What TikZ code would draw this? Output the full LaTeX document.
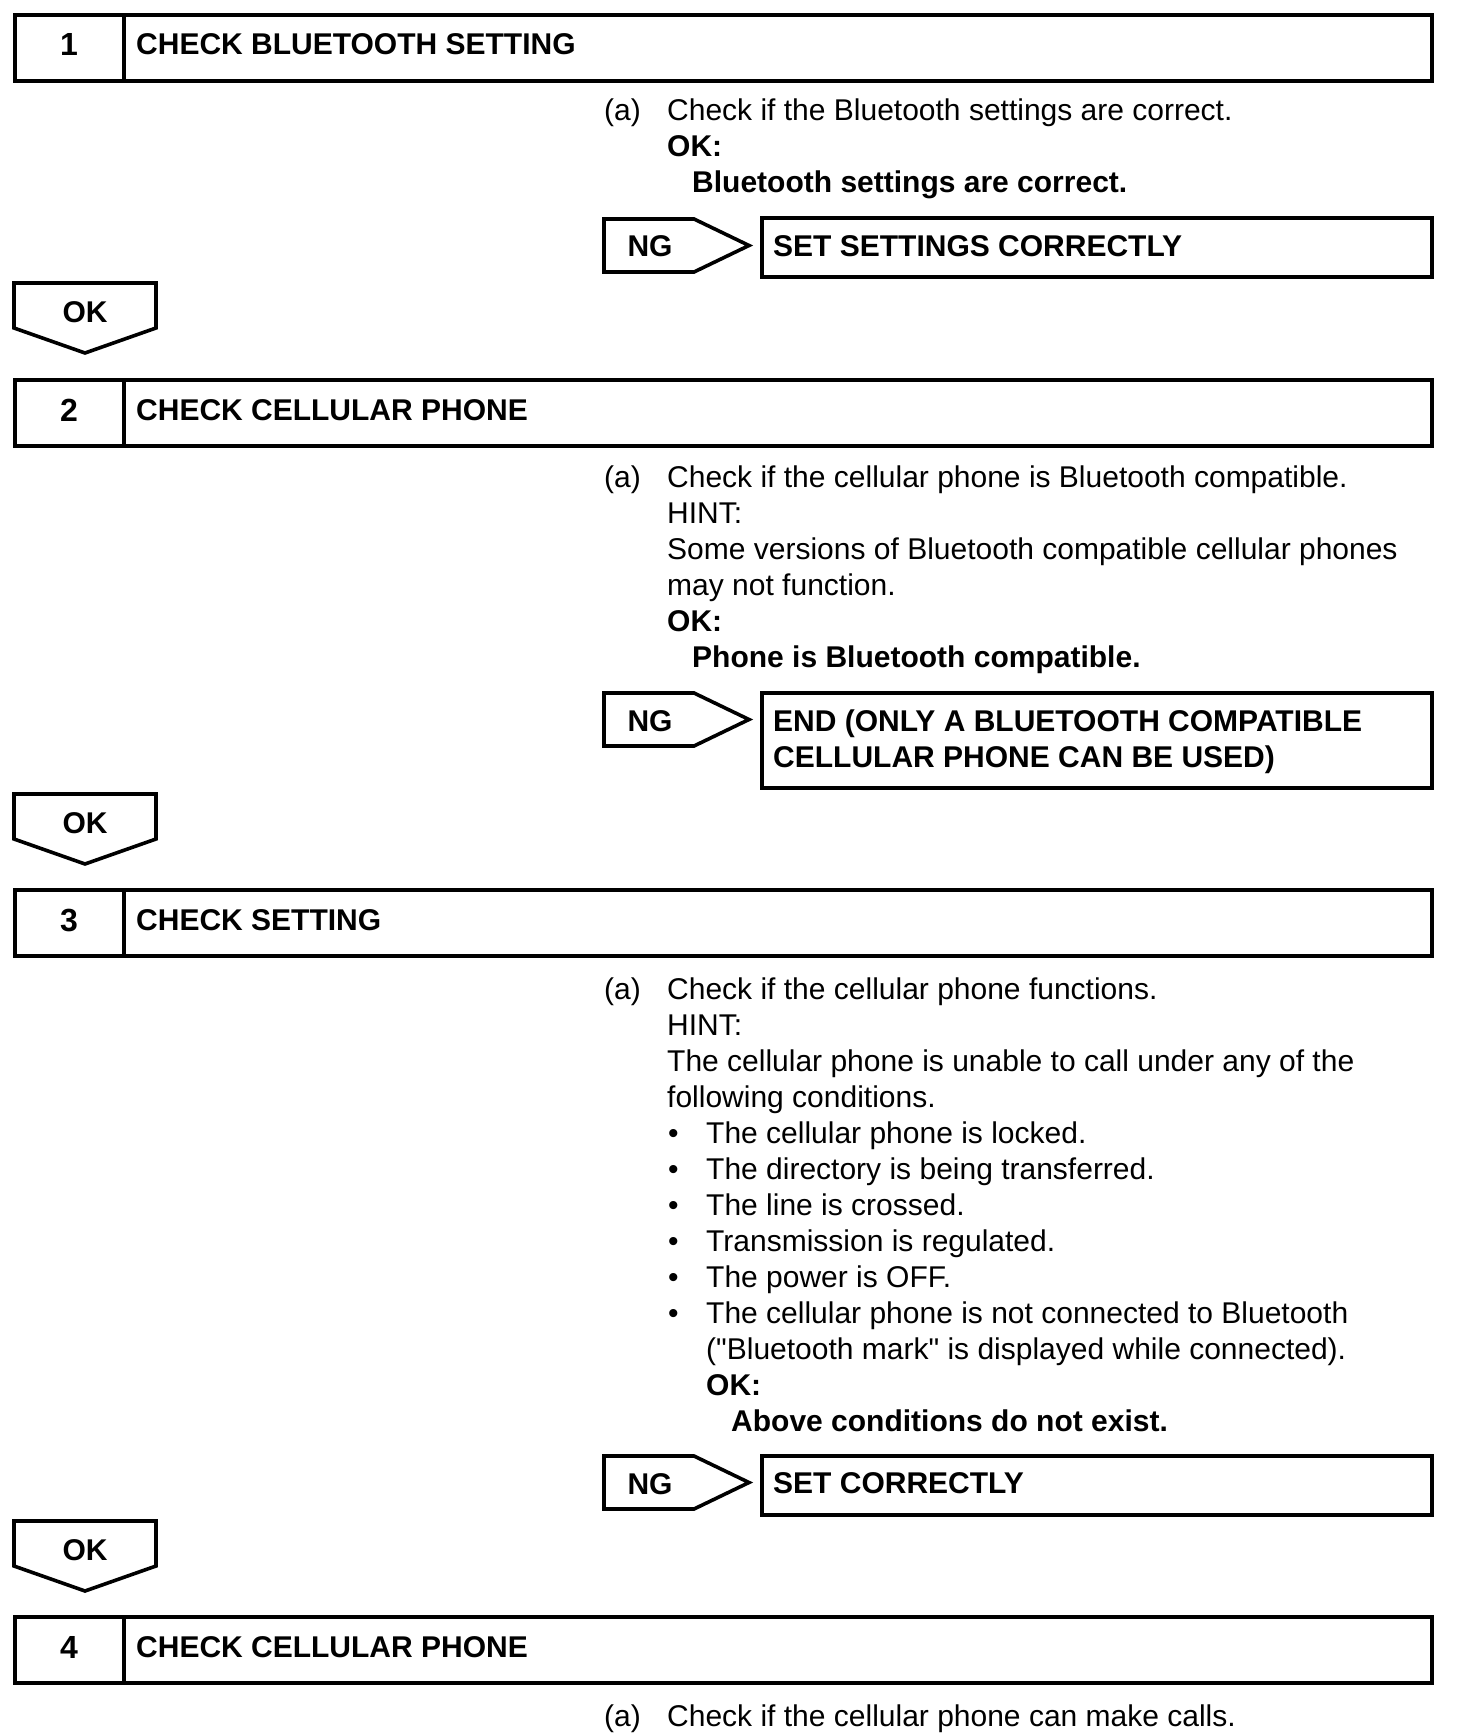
\documentclass[tikz,border=0pt]{standalone}
\usepackage{fontspec}
\setmainfont{Liberation Sans}[Ligatures=TeXOff]
\newcommand\bline[4]{\node[txt] (#1) at (#2,#3) {#4};}
\newcommand\bbline[4]{\node[btxt] (#1) at (#2,#3) {#4};}
\newcommand\stephead[4]{%
  \draw[frame] (15,#2) rectangle (1432,#2+66);
  \draw[frame] (124,#2) -- (124,#2+66);
  \node[ctr,font=\fontsize{32}{36}\selectfont\bfseries] (#1n) at (69,#2+41) {#3};
  \node[btxt] (#1t) at (136,#2+40) {#4};}
\newcommand\ngshape[2]{%
  \draw[frame] (604,#2) -- (694,#2) -- (749,#2+26.5) -- (694,#2+53) -- (604,#2+53) -- cycle;
  \node[ctr] (#1) at (650,#2+38) {NG};}
\newcommand\okshape[2]{%
  \draw[frame] (14,#2) -- (156,#2) -- (156,#2+45) -- (85,#2+70) -- (14,#2+45) -- cycle;
  \node[ctr] (#1) at (85,#2+39) {OK};}
\begin{document}
\begin{tikzpicture}[x=1pt,y=-1pt,line join=miter,
  frame/.style={draw=black,line width=3.6pt},
  txt/.style={inner sep=0pt,anchor=base west,font=\fontsize{30}{36}\selectfont},
  btxt/.style={txt,font=\fontsize{30}{36}\selectfont\bfseries},
  ctr/.style={inner sep=0pt,anchor=base,font=\fontsize{30}{36}\selectfont\bfseries}]
\useasboundingbox[fill=white] (0,0) rectangle (1456,1736);

% ---------- Step 1
\stephead{s1}{15}{1}{CHECK BLUETOOTH SETTING}
\bline{s1a}{604}{121}{(a)}
\bline{s1l1}{667}{121}{Check if the Bluetooth settings are correct.}
\bbline{s1l2}{667}{157}{OK:}
\bbline{s1l3}{692}{193}{Bluetooth settings are correct.}
\ngshape{ng1}{219}
\draw[frame] (762,218) rectangle (1432,277);
\bbline{r1}{773}{256}{SET SETTINGS CORRECTLY}
\okshape{ok1}{283}

% ---------- Step 2
\stephead{s2}{380}{2}{CHECK CELLULAR PHONE}
\bline{s2a}{604}{487}{(a)}
\bline{s2l1}{667}{487}{Check if the cellular phone is Bluetooth compatible.}
\bline{s2l2}{667}{523}{HINT:}
\bline{s2l3}{667}{559}{Some versions of Bluetooth compatible cellular phones}
\bline{s2l4}{667}{595}{may not function.}
\bbline{s2l5}{667}{631}{OK:}
\bbline{s2l6}{692}{667}{Phone is Bluetooth compatible.}
\ngshape{ng2}{693}
\draw[frame] (762,693) rectangle (1432,788);
\bbline{r2a}{773}{731}{END (ONLY A BLUETOOTH COMPATIBLE}
\bbline{r2b}{773}{767}{CELLULAR PHONE CAN BE USED)}
\okshape{ok2}{794}

% ---------- Step 3
\stephead{s3}{890}{3}{CHECK SETTING}
\bline{s3a}{604}{999}{(a)}
\bline{s3l1}{667}{999}{Check if the cellular phone functions.}
\bline{s3l2}{667}{1035}{HINT:}
\bline{s3l3}{667}{1071}{The cellular phone is unable to call under any of the}
\bline{s3l4}{667}{1107}{following conditions.}
\bline{b1}{668}{1143}{•}\bline{s3l5}{706}{1143}{The cellular phone is locked.}
\bline{b2}{668}{1179}{•}\bline{s3l6}{706}{1179}{The directory is being transferred.}
\bline{b3}{668}{1215}{•}\bline{s3l7}{706}{1215}{The line is crossed.}
\bline{b4}{668}{1251}{•}\bline{s3l8}{706}{1251}{Transmission is regulated.}
\bline{b5}{668}{1287}{•}\bline{s3l9}{706}{1287}{The power is OFF.}
\bline{b6}{668}{1323}{•}\bline{s3l10}{706}{1323}{The cellular phone is not connected to Bluetooth}
\bline{s3l11}{706}{1359}{("Bluetooth mark" is displayed while connected).}
\bbline{s3l12}{706}{1395}{OK:}
\bbline{s3l13}{731}{1431}{Above conditions do not exist.}
\ngshape{ng3}{1456}
\draw[frame] (762,1456) rectangle (1432,1515);
\bbline{r3}{773}{1493}{SET CORRECTLY}
\okshape{ok3}{1521}

% ---------- Step 4
\stephead{s4}{1617}{4}{CHECK CELLULAR PHONE}
\bline{s4a}{604}{1726}{(a)}
\bline{s4l1}{667}{1726}{Check if the cellular phone can make calls.}
\end{tikzpicture}
\end{document}
